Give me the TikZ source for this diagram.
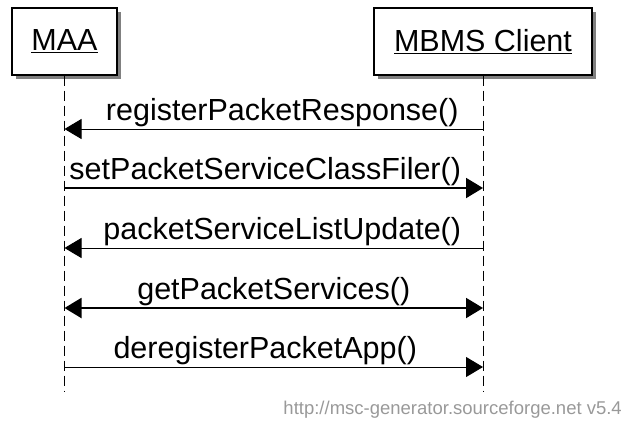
\documentclass[tikz,border=0pt]{standalone}
\usepackage{fontspec}
\setmainfont{Liberation Sans}
\usetikzlibrary{arrows.meta, shadows}
\tikzstyle{entity} = [rectangle, minimum height=67pt, text centered, draw=black, line width=1.2pt, fill=white, drop shadow={shadow xshift=4pt, shadow yshift=-4pt, fill=black!50, opacity=1}, font=\fontsize{30.5pt}{34pt}\selectfont]
\tikzstyle{lifeline} = [line width=1pt, dash pattern=on 10pt off 5pt]
\tikzstyle{call} = [line width=1pt, ->, >={Triangle[length=17pt, width=20pt]}]
\tikzstyle{bold call} = [call, line width=2pt]
\tikzstyle{msg} = [anchor=base, yshift=8.5pt, inner sep=0pt, font=\fontsize{30.5pt}{34pt}\selectfont]
\begin{document}
\begin{tikzpicture}[x=1pt, y=-1pt]
\useasboundingbox (0,0) rectangle (626,421);

\node (maa) [entity, minimum width=105pt] at (64.5,41.5) {\underline{MAA}};
\node (client) [entity, minimum width=218pt] at (483,41.5) {\underline{MBMS Client}};

\coordinate (maaEnd) at (64.5,392);
\coordinate (clientEnd) at (483,392);
\draw [lifeline] (maa) -- (maaEnd);
\draw [lifeline] (client) -- (clientEnd);

\coordinate (maa1) at (64.5,129);
\coordinate (client1) at (483,129);
\draw [call] (client1) -- node[msg, xshift=8.5pt] {registerPacketResponse()} (maa1);

\coordinate (maa2) at (64.5,188);
\coordinate (client2) at (483,188);
\draw [bold call] (maa2) -- node[msg, xshift=-8.5pt] {setPacketServiceClassFiler()} (client2);

\coordinate (maa3) at (64.5,248);
\coordinate (client3) at (483,248);
\draw [call] (client3) -- node[msg, xshift=8.5pt] {packetServiceListUpdate()} (maa3);

\coordinate (maa4) at (64.5,308);
\coordinate (client4) at (483,308);
\draw [bold call, <->] (maa4) -- node[msg] {getPacketServices()} (client4);

\coordinate (maa5) at (64.5,367);
\coordinate (client5) at (483,367);
\draw [call] (maa5) -- node[msg, xshift=-8.5pt] {deregisterPacketApp()} (client5);

\node (stamp) [anchor=base east, inner sep=0pt, text=black!40, font=\fontsize{18.5pt}{21pt}\selectfont] at (622,414) {http://msc-generator.sourceforge.net v5.4};
\end{tikzpicture}
\end{document}
